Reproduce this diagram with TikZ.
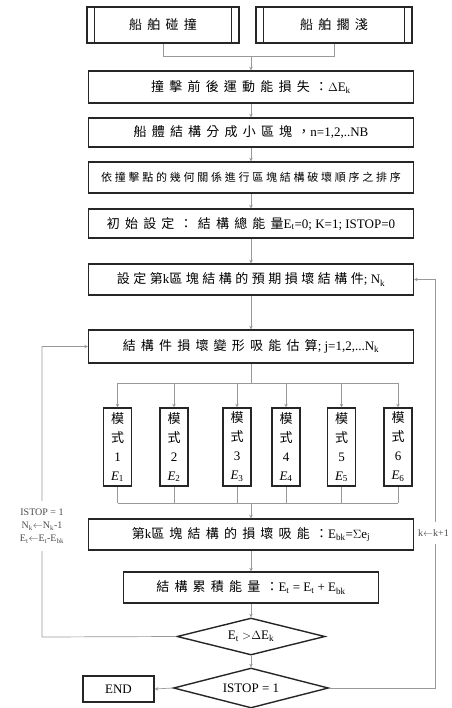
\documentclass[tikz,border=0pt]{standalone}
\usepackage{fontspec}
\setmainfont{Liberation Serif}
\newfontfamily\cjk{Noto Sans CJK TC}[LetterSpace=40]
\newfontfamily\cjkm{Noto Sans CJK TC}[LetterSpace=27]
\newfontfamily\cjks{Noto Sans CJK TC}[LetterSpace=25]
\newfontfamily\cjkv{Noto Sans CJK TC}
\usetikzlibrary{shapes.geometric,arrows.meta}
\tikzset{
  box/.style={draw=black!85, line width=1.4pt, fill=white, inner sep=0pt,
    minimum width=325pt, minimum height=31pt, font=\fontsize{13}{15}\selectfont},
  ppbox/.style={box, minimum width=152pt, minimum height=36pt},
  modebox/.style={box, minimum width=28pt, minimum height=78pt, align=center,
    font=\fontsize{13}{19}\selectfont},
  dia/.style={diamond, draw=black!85, line width=1.4pt, fill=white, inner sep=0pt,
    aspect=4, font=\fontsize{13}{15}\selectfont},
  conn/.style={draw=black!40, line width=0.7pt},
  arr/.style={conn, -{Stealth[length=3.5pt,width=3.5pt]}},
  lab/.style={fill=white, inner sep=2pt, align=center, font=\fontsize{10}{13}\selectfont, text=black!70}
}
\begin{document}
\begin{tikzpicture}[x=1pt,y=-1pt]
\useasboundingbox (0,0) rectangle (451,708);
% top predefined boxes
\node[ppbox] (p1) at (163,25) {\cjk 船舶碰撞};
\node[ppbox, minimum width=156pt] (p2) at (334,25) {\cjk 船舶擱淺};
\foreach \n in {p1,p2}{
  \draw[black!85, line width=1.2pt] ([xshift=8pt]\n.north west) -- ([xshift=8pt]\n.south west);
  \draw[black!85, line width=1.2pt] ([xshift=-8pt]\n.north east) -- ([xshift=-8pt]\n.south east);
}
\coordinate (j0) at (251,56);
% main column
\node[box, minimum height=32pt] (b1) at (251,87) {{\cjk 撞擊前後運動能損失：}$\Delta$E\textsubscript{k}};
\node[box, minimum height=29pt] (b2) at (251,132.5) {{\cjk 船體結構分成小區塊，}n=1,2,..NB};
\node[box] (b3) at (251,177.5) {\fontsize{11}{13}\selectfont\cjks 依撞擊點的幾何關係進行區塊結構破壞順序之排序};
\node[box, minimum height=29pt] (b4) at (251,223.5) {{\cjk 初始設定：結構總能量}E\textsubscript{t}=0; K=1; ISTOP=0};
\node[box] (b5) at (251,279.5) {{\cjkm 設定第}k{\cjkm 區塊結構的預期損壞結構件}; N\textsubscript{k}};
\node[box, minimum height=33pt] (b6) at (251,346.5) {{\cjk 結構件損壞變形吸能估算}; j=1,2,...N\textsubscript{k}};
% modes
\node[modebox] (m1) at (117.5,447) {{\cjkv 模}\\{\cjkv 式}\\1\\\textit{E}\textsubscript{1}};
\node[modebox] (m2) at (174,447) {{\cjkv 模}\\{\cjkv 式}\\2\\\textit{E}\textsubscript{2}};
\node[modebox] (m3) at (237,447) {{\cjkv 模}\\{\cjkv 式}\\3\\\textit{E}\textsubscript{3}};
\node[modebox] (m4) at (286,447) {{\cjkv 模}\\{\cjkv 式}\\4\\\textit{E}\textsubscript{4}};
\node[modebox] (m5) at (341.5,447) {{\cjkv 模}\\{\cjkv 式}\\5\\\textit{E}\textsubscript{5}};
\node[modebox] (m6) at (398,447) {{\cjkv 模}\\{\cjkv 式}\\6\\\textit{E}\textsubscript{6}};
\node[box] (b7) at (251,534.5) {{\cjk 第}k{\cjk 區塊結構的損壞吸能：}E\textsubscript{bk}=$\Sigma$e\textsubscript{j}};
\node[box, minimum width=255pt] (b8) at (251,587.5) {{\cjk 結構累積能量：}E\textsubscript{t} = E\textsubscript{t} + E\textsubscript{bk}};
\node[dia, minimum width=148pt, minimum height=37pt] (d1) at (251,636.5) {E\textsubscript{t} $>$$\Delta$E\textsubscript{k}};
\node[dia, minimum width=155pt, minimum height=40pt] (d2) at (251,688) {ISTOP = 1};
\node[box, minimum width=71pt, minimum height=26pt] (endn) at (118.5,689) {END};
% connectors
\draw[conn] (p1.south) |- (j0);
\draw[conn] (p2.south) |- (j0);
\draw[arr] (j0) -- (b1.north);
\draw[arr] (b1) -- (b2);
\draw[arr] (b2) -- (b3);
\draw[arr] (b3) -- (b4);
\draw[arr] (b4) -- (b5);
\draw[arr] (b5) -- (b6);
\coordinate (j1) at (251,383);
\coordinate (j1l) at (117.5,383);
\coordinate (j1r) at (398,383);
\draw[conn] (b6.south) -- (j1);
\draw[conn] (j1l) -- (j1r);
\foreach \m in {m1,m2,m3,m4,m5,m6}{
  \draw[arr] (j1l -| \m) -- (\m.north);
  \draw[conn] (\m.south) -- (\m.south |- 0,503);
}
\coordinate (j2) at (251,503);
\draw[conn] (m1.south |- j2) -- (m6.south |- j2);
\draw[arr] (j2) -- (b7.north);
\draw[arr] (b7) -- (b8);
\draw[arr] (b8) -- (d1);
\draw[arr] (d1) -- (d2);
\draw[arr] (d2.west) -- (endn.east);
\coordinate (lc) at (42,637);
\coordinate (rc) at (435,688);
\draw[arr] (d1.west) -- (lc) -- (lc |- b6.west) -- (b6.west);
\draw[arr] (d2.east) -- (rc) -- (rc |- b5.east) -- (b5.east);
\node[lab, inner ysep=8pt] (ll) at (42,526) {ISTOP = 1\\N\textsubscript{k}$\leftarrow$N\textsubscript{k}-1\\E\textsubscript{t}$\leftarrow$E\textsubscript{t}-E\textsubscript{bk}};
\node[lab, inner ysep=8pt, anchor=west] (rl) at (416,533) {k$\leftarrow$k+1};
\end{tikzpicture}
\end{document}
